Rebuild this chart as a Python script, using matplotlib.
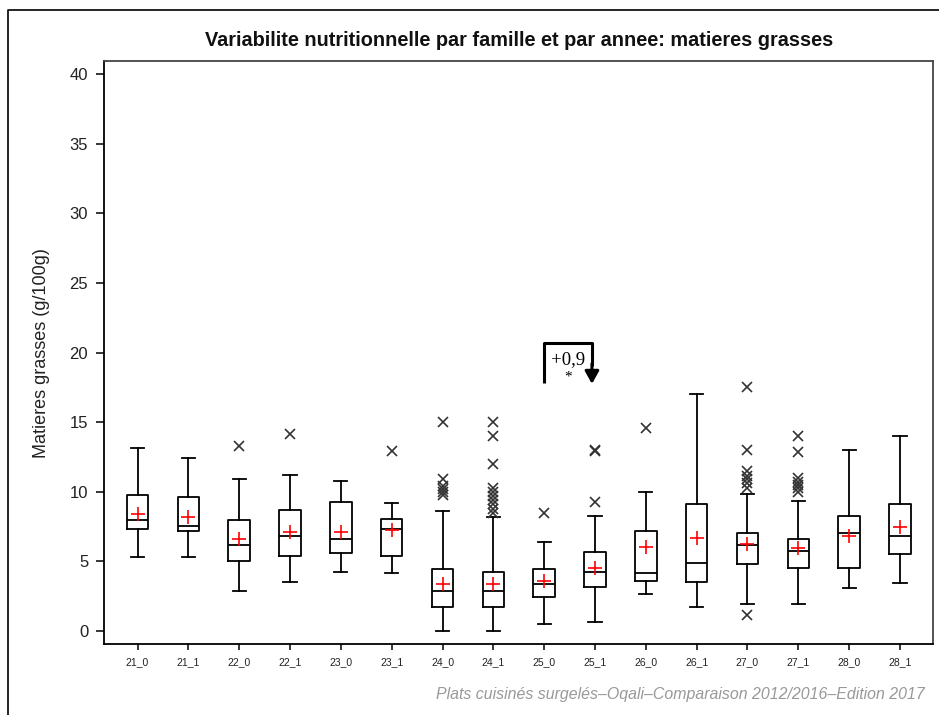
import matplotlib
matplotlib.use("Agg")
import matplotlib.pyplot as plt
from matplotlib.lines import Line2D

labels = ['21_0', '21_1', '22_0', '22_1', '23_0', '23_1', '24_0', '24_1',
          '25_0', '25_1', '26_0', '26_1', '27_0', '27_1', '28_0', '28_1']
whislo = [5.31, 5.31, 2.85, 3.50, 4.24, 4.14, 0.00, 0.00,
          0.50, 0.62, 2.66, 1.70, 1.92, 1.92, 3.06, 3.42]
q1 = [7.33, 7.21, 5.05, 5.41, 5.60, 5.41, 1.70, 1.70,
      2.42, 3.16, 3.61, 3.52, 4.79, 4.55, 4.55, 5.53]
med = [7.97, 7.54, 6.15, 6.80, 6.58, 7.33, 2.90, 2.90,
       3.38, 4.26, 4.17, 4.91, 6.20, 5.74, 7.01, 6.80]
q3 = [9.77, 9.65, 7.97, 8.71, 9.24, 8.07, 4.45, 4.26,
      4.45, 5.65, 7.21, 9.14, 7.01, 6.58, 8.28, 9.14]
whishi = [13.17, 12.42, 10.92, 11.23, 10.75, 9.22, 8.62, 8.20,
          6.39, 8.28, 9.96, 17.00, 9.86, 9.34, 12.97, 14.03]
means = [8.43, 8.19, 6.58, 7.09, 7.09, 7.25, 3.38, 3.38,
         3.61, 4.55, 6.03, 6.70, 6.27, 5.98, 6.85, 7.47]
fliers = [
    [], [], [13.29], [14.15], [], [12.95],
    [9.8, 10.0, 10.2, 10.4, 10.9, 15.0],
    [8.5, 8.8, 9.1, 9.4, 9.7, 10.0, 10.3, 12.0, 14.0, 15.0],
    [8.5], [9.24, 12.95, 13.0], [14.58], [],
    [1.15, 10.25, 10.6, 10.89, 11.13, 11.49, 12.97, 17.55],
    [10.0, 10.25, 10.48, 10.72, 10.96, 12.85, 14.03],
    [], [],
]
yticks = [0, 5, 10, 15, 20, 25, 30, 35, 40]

# annotation: from group 25_0 to 25_1
ann_from, ann_to = '25_0', '25_1'
ann_text = '+0,9'
ann_star = '*'

title = 'Variabilite nutritionnelle par famille et par annee: matieres grasses'
ylabel = 'Matieres grasses (g/100g)'
footer = 'Plats cuisinés surgelés–Oqali–Comparaison 2012/2016–Edition 2017'

W, H = 939, 715
fig = plt.figure(figsize=(W / 100, H / 100), dpi=100)
plt.rcParams['font.family'] = ['Liberation Sans', 'DejaVu Sans']

ax = fig.add_axes([103.5 / W, 1 - 644.3 / H, (933 - 103.5) / W, (644.3 - 61) / H])

stats = []
for i, lab in enumerate(labels):
    stats.append(dict(label=lab, whislo=whislo[i], q1=q1[i], med=med[i],
                      q3=q3[i], whishi=whishi[i], mean=means[i], fliers=fliers[i]))
pos = list(range(1, len(labels) + 1))
ax.bxp(stats, positions=pos, widths=0.425, showmeans=True, capwidths=0.26,
       boxprops=dict(color='black', linewidth=1.3),
       medianprops=dict(color='black', linewidth=1.3),
       whiskerprops=dict(color='black', linewidth=1.3),
       capprops=dict(color='black', linewidth=1.3),
       meanprops=dict(marker='+', markeredgecolor='#ff0000', markersize=9.5,
                      markeredgewidth=1.2, linestyle='none'),
       flierprops=dict(marker='x', markeredgecolor='#333333', markersize=7.5,
                       markeredgewidth=1.2, linestyle='none'))

ax.set_xlim(0.33, 16.65)
ax.set_ylim(-0.95, 40.93)
ax.set_yticks(yticks)
ax.set_yticklabels([str(t) for t in yticks])
ax.tick_params(axis='y', length=6, width=1.1, pad=5, labelsize=12, labelcolor='#222222')
ax.tick_params(axis='x', length=4, width=1.1, pad=5, labelsize=7.5, labelcolor='#222222')
for s in ['left', 'bottom']:
    ax.spines[s].set_linewidth(1.3)
    ax.spines[s].set_color('black')
for s in ['top', 'right']:
    ax.spines[s].set_linewidth(1.3)
    ax.spines[s].set_color('#444444')

ax.set_ylabel(ylabel, fontsize=13, color='#222222', labelpad=14)

# annotation bracket
xa = pos[labels.index(ann_from)]
xb = pos[labels.index(ann_to)] - 0.06
ytop, ylow_l, ylow_r = 20.7, 17.8, 19.0
ax.plot([xa, xa, xb, xb], [ylow_l, ytop, ytop, ylow_r], color='black', lw=2.2,
        solid_joinstyle='round', solid_capstyle='butt', clip_on=False)
ax.annotate('', xy=(xb, 17.75), xytext=(xb, ylow_r + 0.2),
            arrowprops=dict(arrowstyle='-|>,head_length=0.75,head_width=0.42',
                            color='black', lw=2.2, shrinkA=0, shrinkB=0))
xm = (xa + xb) / 2
ax.text(xm, 19.5, ann_text, ha='center', va='center', fontsize=13.5,
        family='Liberation Serif', color='black')
ax.text(xm, 18.25, ann_star, ha='center', va='center', fontsize=11,
        family='Liberation Serif', color='black')

fig.text(519 / W, 1 - 41 / H, title, ha='center', va='center', fontsize=14.3,
         fontweight='bold', color='#111111')
fig.text(925 / W, 1 - 695 / H, footer, ha='right', va='center', fontsize=11.4,
         style='italic', color='#999999')

# outer frame
fig.add_artist(Line2D([8 / W, 8 / W, 1.0], [0.0, 1 - 10 / H, 1 - 10 / H],
                      color='black', lw=1.2, transform=fig.transFigure))

fig.savefig('out.png', dpi=100)
